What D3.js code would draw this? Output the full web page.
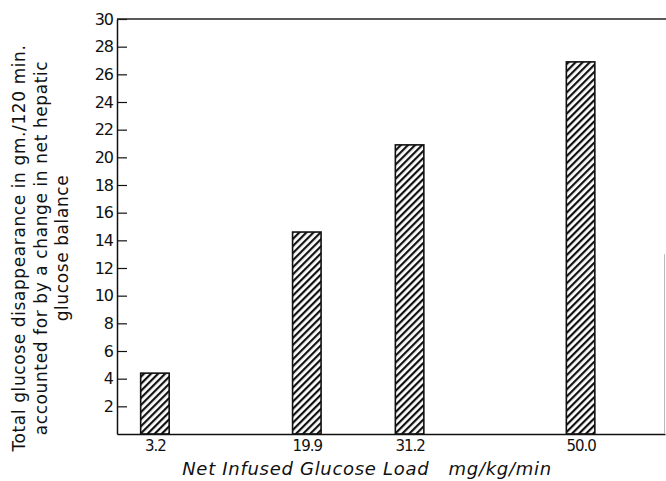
<!DOCTYPE html>
<head>
<meta charset="utf-8">
<title>Glucose disappearance vs infused load</title>
<script src="https://cdn.jsdelivr.net/npm/d3@7"></script>
<style>
    body { margin: 0; background: #fff; }
    text { font-family: "DejaVu Sans", sans-serif; fill: #111; }
</style>
</head>
<body>
<script>
    // data
    var loads = [3.2, 19.9, 31.2, 50.0];
    var loadLabels = ["3.2", "19.9", "31.2", "50.0"];
    var disappearance = [4.4, 14.6, 20.9, 26.9];
    var yTicks = [2, 4, 6, 8, 10, 12, 14, 16, 18, 20, 22, 24, 26, 28, 30];
    var yTitle = [
        "Total glucose disappearance in gm./120 min.",
        "accounted for by a change in net hepatic",
        "glucose balance"
    ];

    var W = 666, H = 481;
    var margin = {top: 19, right: 1, bottom: 47, left: 117};

    var svg = d3.select("body").append("svg")
        .attr("width", W)
        .attr("height", H);

    // diagonal hatching
    var pat = svg.append("defs").append("pattern")
        .attr("id", "hatch")
        .attr("patternUnits", "userSpaceOnUse")
        .attr("width", 5)
        .attr("height", 5)
        .attr("patternTransform", "rotate(45)");
    pat.append("rect").attr("width", 5).attr("height", 5).attr("fill", "#fff");
    pat.append("rect").attr("width", 2.2).attr("height", 5).attr("fill", "#111");

    // hand drawn axis isn't quite linear, this is a least-squares fit
    var x = d3.scaleLinear()
        .domain([-0.97, 59.28])
        .range([margin.left, W - margin.right]);

    var y = d3.scaleLinear()
        .domain([0, 30])
        .range([H - margin.bottom, margin.top]);

    var barW = 28.5;

    // bars
    svg.selectAll("rect.bar")
        .data(loads)
        .enter()
        .append("rect")
        .attr("class", "bar")
        .attr("x", d => x(d) - barW / 2)
        .attr("width", barW)
        .attr("y", (d, i) => y(disappearance[i]))
        .attr("height", (d, i) => y(0) - y(disappearance[i]))
        .attr("fill", "url(#hatch)")
        .attr("stroke", "#111")
        .attr("stroke-width", 1.6);

    // y axis, ticks point inward
    var yAxis = svg.append("g")
        .attr("transform", "translate(" + margin.left + ",0)")
        .call(d3.axisRight(y).tickValues(yTicks).tickSize(10).tickSizeOuter(0));
    yAxis.select(".domain").attr("stroke", "#111").attr("stroke-width", 1.5);
    yAxis.selectAll(".tick line").attr("stroke", "#111").attr("stroke-width", 1.2);
    yAxis.selectAll(".tick text")
        .attr("x", -4)
        .attr("text-anchor", "end")
        .style("font-size", "16px")
        .style("letter-spacing", "-1px");

    // x axis
    var xAxis = svg.append("g")
        .attr("transform", "translate(0," + y(0) + ")")
        .call(d3.axisBottom(x).tickValues(loads)
            .tickFormat((d, i) => loadLabels[i])
            .tickSize(0).tickSizeOuter(0));
    xAxis.select(".domain").attr("stroke", "#111").attr("stroke-width", 1.5);
    xAxis.selectAll(".tick text")
        .attr("dy", "0.71em")
        .attr("y", 6)
        .style("font-size", "15px")
        .style("letter-spacing", "-1px");

    // top line of frame
    svg.append("line")
        .attr("x1", margin.left).attr("x2", W)
        .attr("y1", y(30)).attr("y2", y(30))
        .attr("stroke", "#222").attr("stroke-width", 1.5);

    // faint right edge
    svg.append("line")
        .attr("x1", W - 1.5).attr("x2", W - 1.5)
        .attr("y1", y(13)).attr("y2", y(0))
        .attr("stroke", "#bbb").attr("stroke-width", 1);

    // x title
    svg.append("text")
        .attr("x", 367)
        .attr("y", 475)
        .attr("text-anchor", "middle")
        .style("font-size", "18px")
        .style("font-style", "italic")
        .style("letter-spacing", "0.7px")
        .style("white-space", "pre")
        .text("Net Infused Glucose Load   mg/kg/min");

    // y title, three rotated lines
    svg.selectAll("text.ytitle")
        .data(yTitle)
        .enter()
        .append("text")
        .attr("class", "ytitle")
        .attr("transform", (d, i) => "translate(" + (25 + i * 21.5) + ",248) rotate(-90)")
        .attr("text-anchor", "middle")
        .style("font-size", "17px")
        .style("letter-spacing", "0.6px")
        .text(d => d);
</script>
</body>
</html>
